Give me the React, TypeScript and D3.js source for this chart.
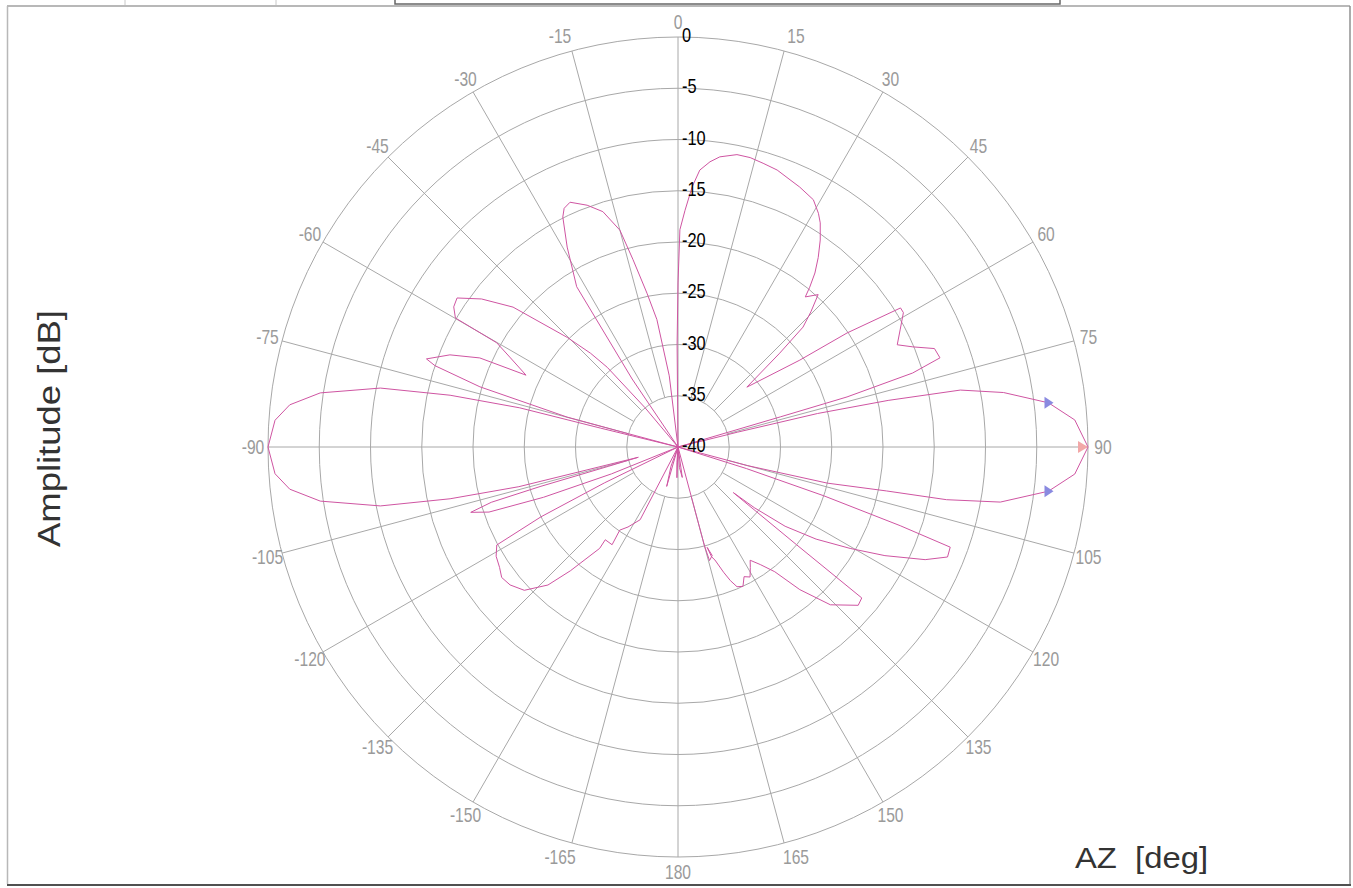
import React from 'react';
import * as d3 from 'd3';

const W = 1353;
const H = 888;
const CX = 678;
const CY = 447;
const R = 410;

const angleTicks = [0, 15, 30, 45, 60, 75, 90, 105, 120, 135, 150, 165, 180, 195, 210, 225, 240, 255, 270, 285, 300, 315, 330, 345];
const angleTickLabels = ['0', '15', '30', '45', '60', '75', '90', '105', '120', '135', '150', '165', '180', '-165', '-150', '-135', '-120', '-105', '-90', '-75', '-60', '-45', '-30', '-15'];
const dbTicks = [0, -5, -10, -15, -20, -25, -30, -35, -40];
const dbTickLabels = ['0', '-5', '-10', '-15', '-20', '-25', '-30', '-35', '-40'];

// measured pattern, trace order (azimuth deg, amplitude dB)
const patternAz = [
  -180, -178, -176, -172, -168, -164, -160, -157,
  -152.5, -148, -145, -146, -141.9, -142.3, -139, -136.7, -133, -129.4, -126.5, -124, -121, -118.4, -117, -116, -115,
  -112, -110.5, -109, -107.5, -106.5, -106, -105.5,
  -104.5, -104, -102.8, -101.2, -98.6, -96.2, -93.8, -90, -86.2, -83.8, -81.4, -78.8, -77.2, -76.1, -76.3, -76,
  -75, -74.9, -73.1, -71.5, -70.7, -68, -65.8, -64.7, -62, -60.1, -59.9, -58, -56, -53, -49.7, -45.3, -43, -41.6, -40, -38,
  -34, -32.3, -29, -26.6, -25.5, -23.8, -20.6, -17.7, -15, -13.5, -11.4, -9.4, -7, -4,
  -0.5, 0, 0.5, 1.7, 3.1, 4.5, 6.4, 8.2, 11.4, 14, 16.7, 19.7, 22.5, 25.1, 28.7, 31, 32.4, 34.5, 36.5, 38.2, 39.5, 40.3, 42.6, 44.5, 46.2, 47.3, 49,
  54.5, 56, 58, 59.2, 62.2, 65, 66.9, 69, 71.2, 72.5, 73.5, 73.6, 74,
  76, 76.5, 77.5, 78.6, 80.5, 83.2, 86.1, 90, 93.9, 96.8, 99.7, 101.1, 101.9, 103.6, 105, 106,
  107.5, 108.5, 109.5, 110.2, 112.2, 114.5, 117.7, 120.5, 123.7, 126.5, 128.5, 129.5,
  129.5, 129.4, 131.3, 136, 139.5, 142.2, 145, 147.5, 149, 151, 153, 155, 157.1, 158.6, 160, 161.9, 163, 163.8, 162.5, 164.5, 165, 167,
  172, 176, 180,
];
const patternDb = [
  -40, -37, -38.5, -40, -40, -36, -38, -40,
  -32, -30.8, -30.1, -28.5, -28.5, -27.5, -24, -21.5, -19.5, -18.8, -18.6, -19, -19.3, -19.9, -25, -32, -40,
  -33, -26, -20.5, -18.8, -21, -26, -33,
  -36, -24, -17.2, -10.4, -4.7, -1.9, -0.6, 0, -0.6, -1.9, -4.7, -10.4, -17.2, -24.1, -32.2, -40,
  -35, -28.8, -19.8, -15, -14, -16, -18.8, -23.6, -21.5, -19.6, -14.9, -14.2, -14, -16, -18.9, -24.8, -27.5, -29.6, -35, -40,
  -32, -21.5, -17.7, -14.9, -14.2, -13.9, -14.8, -15.9, -18.1, -21.2, -24.7, -27.4, -33, -40,
  -30, -24, -18.8, -16.9, -14.6, -12.9, -12, -11.4, -10.9, -10.9, -11.1, -11.3, -11.7, -12, -12.5, -13.4, -14.1, -15.5, -17, -18.4, -19.8, -20.8, -19.8, -21.5, -23.1, -26.5, -31.1,
  -25.4, -20.1, -14.4, -14.4, -15.5, -16.4, -15.1, -13.2, -13, -16, -22.8, -29.6, -40,
  -34, -26, -19, -11.9, -7.8, -3.6, -1.2, 0, -1.2, -3.6, -8.1, -13.3, -19.2, -25, -33, -40,
  -33, -25, -17, -11.7, -11.6, -13.5, -17.2, -20.5, -23.8, -27, -30.5, -33,
  -25, -16.8, -16.6, -18.6, -21.7, -24.6, -26, -26.9, -26.3, -25.5, -25.8, -25, -25.2, -26, -27, -28.4, -28.8, -29.8, -28.9, -28.5, -30, -40,
  -37, -38, -40,
];

const markerAz = [83.2, 96.8];
const markerDb = [-3.6, -3.6];
const peakAz = [90];
const peakDb = [0];

const rScale = d3.scaleLinear().domain([-40, 0]).range([0, R]);
const toRad = (a: number) => (a * Math.PI) / 180;
const px = (az: number, db: number): [number, number] => {
  const r = rScale(db);
  return [CX + r * Math.sin(toRad(az)), CY - r * Math.cos(toRad(az))];
};

export default function App() {
  const pts: [number, number][] = patternAz.map((a, i) => [a, patternDb[i]]);
  const line = d3
    .lineRadial<[number, number]>()
    .angle((d) => toRad(d[0]))
    .radius((d) => rScale(d[1]));
  const pathD = line(pts) || '';

  const sans = "'Liberation Sans', Arial, sans-serif";

  return (
    <svg
      width={W}
      height={H}
      style={{ position: 'absolute', left: 0, top: 0, background: '#fff' }}
    >
      {/* panel frame */}
      <rect x={0} y={0} width={W} height={H} fill="#fff" />
      <line x1={125} y1={0} x2={125} y2={5} stroke="#c8c8c8" strokeWidth={1} />
      <line x1={276} y1={0} x2={276} y2={5} stroke="#c8c8c8" strokeWidth={1} />
      <line x1={7} y1={6} x2={1350} y2={6} stroke="#b8b8b8" strokeWidth={2} />
      <line x1={7.5} y1={6} x2={7.5} y2={884} stroke="#b8b8b8" strokeWidth={1.5} />
      <line x1={1350} y1={6} x2={1350} y2={885} stroke="#909090" strokeWidth={1.5} />
      <line x1={7} y1={885} x2={1351} y2={885} stroke="#505050" strokeWidth={2} />
      <rect x={395} y={-3} width={665} height={7} fill="#fff" stroke="#666" strokeWidth={1.5} />

      {/* grid circles */}
      {dbTicks.slice(0, 8).map((d) => (
        <circle key={d} cx={CX} cy={CY} r={rScale(d)} fill="none" stroke="#a8a8a8" strokeWidth={1} />
      ))}
      {/* spokes */}
      {angleTicks.map((a) => {
        const inner = a % 90 === 0 ? 0 : rScale(-35);
        return (
          <line
            key={a}
            x1={CX + inner * Math.sin(toRad(a))}
            y1={CY - inner * Math.cos(toRad(a))}
            x2={CX + R * Math.sin(toRad(a))}
            y2={CY - R * Math.cos(toRad(a))}
            stroke="#a8a8a8"
            strokeWidth={1}
          />
        );
      })}

      {/* angle labels */}
      {angleTicks.map((a, i) => {
        const s = Math.sin(toRad(a));
        const c = Math.cos(toRad(a));
        const shift = Math.abs(c) > 0.9 && Math.abs(s) > 0.1 ? Math.sign(s) * 8 : 0;
        const x = CX + 425 * s + shift;
        const y = CY - 425 * c;
        return (
          <text
            key={a}
            transform={`translate(${x},${y}) scale(0.78,1)`}
            textAnchor="middle"
            dominantBaseline="central"
            fontFamily={sans}
            fontSize={20}
            fill="#9a9a9a"
          >
            {angleTickLabels[i]}
          </text>
        );
      })}

      {/* trace */}
      <g transform={`translate(${CX},${CY})`}>
        <path d={pathD} fill="none" stroke="#cf55a2" strokeWidth={1} strokeLinejoin="round" />
      </g>

      {/* radial labels */}
      {dbTicks.map((d, i) => (
        <text
          key={d}
          transform={`translate(${CX + 4},${CY - rScale(d) - 2}) scale(0.82,1)`}
          dominantBaseline="central"
          fontFamily={sans}
          fontSize={20}
          fill="#000"
        >
          {dbTickLabels[i]}
        </text>
      ))}

      {/* markers */}
      {markerAz.map((a, i) => {
        const [x, y] = px(a, markerDb[i]);
        return (
          <path
            key={i}
            d={`M${x - 4},${y - 6} L${x + 5},${y} L${x - 4},${y + 6} Z`}
            fill="#8a8ae0"
          />
        );
      })}
      {peakAz.map((a, i) => {
        const [x, y] = px(a, peakDb[i]);
        return (
          <path key={i} d={`M${x - 10},${y - 6} L${x},${y} L${x - 10},${y + 6} Z`} fill="#f2a8a8" />
        );
      })}

      {/* axis titles */}
      <text
        transform="translate(60,547) rotate(-90)"
        fontFamily={sans}
        fontSize={31}
        fill="#333"
        textLength={237}
        lengthAdjust="spacingAndGlyphs"
      >
        Amplitude [dB]
      </text>
      <text
        x={1075}
        y={868}
        fontFamily={sans}
        fontSize={30}
        fill="#333"
        style={{ whiteSpace: 'pre' }}
        textLength={133}
        lengthAdjust="spacingAndGlyphs"
      >
        AZ  [deg]
      </text>
    </svg>
  );
}
